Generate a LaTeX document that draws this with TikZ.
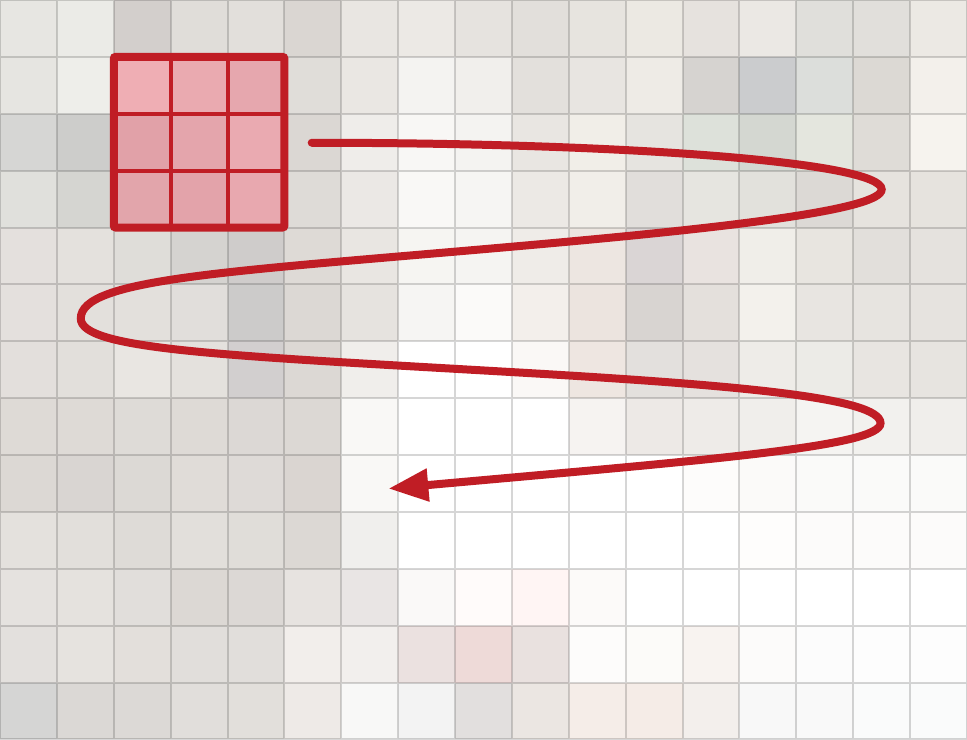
\documentclass[tikz,border=0pt]{standalone}
\usepackage{tikz}
\usetikzlibrary{arrows.meta}
\definecolor{kred}{HTML}{C01D25}
\tikzstyle{gridline} = [draw=black, draw opacity=0.16, line width=1pt]
\tikzstyle{kernel} = [draw=kred, line width=4pt, rounded corners=1pt]
\tikzstyle{kernelline} = [draw=kred, line width=2pt]
\tikzstyle{sweep} = [draw=kred, line width=4pt, line cap=round, -{Triangle[length=7mm,width=5.5mm]}]

\begin{document}
\begin{tikzpicture}
\useasboundingbox (0,0) rectangle (17,13);
\foreach \cells [count=\r from 0] in {
  {E7E6E2,EBEBE7,D3CFCC,E0DDD9,E2DFDB,DAD6D2,E9E6E2,ECE9E5,E6E3DF,E2DFDB,E7E4DF,ECE9E3,E6E2DE,EBE8E4,E0DFDB,E1DFDB,ECE9E4},
  {E6E5E1,EEEEEA,EFAEB4,EAAAB0,E6A7AE,E0DDD9,EAE7E3,F4F3F1,F1EFEC,E3E0DC,E8E5E1,EEEBE6,D6D3D0,CBCCCE,DCDEDB,DCD9D4,F3F0EB},
  {D6D6D4,CDCDCB,E1A1A8,E4A5AC,EAAAB1,DBD7D3,EFEDEA,F8F7F5,F4F3F1,E9E6E2,F1EEE8,E6E4E0,DDE1DA,D4D7D1,E4E6DE,DFDCD7,F6F3EE},
  {E0E0DC,D5D5D1,E2A5AB,E3A3AA,E8A8AF,DEDBD7,EBE8E5,F9F8F6,F6F5F3,ECE9E5,F1EEE9,E1DEDB,E6E5E0,E2E1DC,DCD9D5,E6E3DE,E6E3DE},
  {E4E0DD,E4E1DD,DFDDD9,D5D3D0,CFCCCB,DEDAD6,E9E6E2,F6F5F2,F5F4F2,EFECE8,EDE6E1,DAD5D5,E9E3E0,F0EEE9,E8E5E0,E2DFDB,E5E2DE},
  {E4E0DD,E3E0DC,E3E0DC,E1DEDB,CCCBCA,DCD8D4,E6E3DF,F6F5F3,FBFAF9,F3EFEB,ECE4DF,D8D4D1,E4E0DC,F3F1EC,E8E5E1,E7E4E0,E6E3DF},
  {E3DFDC,E2DFDB,E9E6E2,E4E1DD,D2CFCF,DCD8D4,F0EEEB,FFFFFF,FFFFFF,FAF8F6,EEE6E1,E3E0DD,E5E1DE,EEECE8,ECEBE7,E8E5E1,E7E4E0},
  {DEDAD6,DEDAD6,DEDBD7,DEDAD6,DCD8D5,DCD8D4,F9F8F6,FFFFFF,FFFFFF,FFFFFF,F6F3F1,EDE9E6,EEEBE8,F0EEEB,F5F4F2,F2F1EE,F0EEEB},
  {DCD8D4,D9D5D2,DCD9D5,E0DCD8,DEDAD7,DAD5D1,F9F8F6,FFFFFF,FFFFFF,FFFFFF,FFFFFF,FFFFFF,FDFCFB,FBFAF9,FAFAF9,FAFAF9,FAFAF9},
  {E4E1DD,E2DFDB,DEDBD7,E2DFDB,E0DDD9,DCD8D4,F0EFED,FFFFFF,FFFFFF,FFFFFF,FFFFFF,FFFFFF,FFFFFF,FEFDFC,FCFBFA,FCFBFA,FCFBFA},
  {E5E2DF,E5E2DE,E1DEDB,DCD8D4,DCD8D5,E7E3E0,E9E5E4,FAF9F8,FFFBFA,FFF5F4,FCFAF9,FFFFFF,FFFFFF,FFFFFF,FFFFFF,FFFFFF,FFFFFF},
  {E3E0DD,E6E3DF,E3DFDB,E1DEDB,E1DEDB,F2EEEB,F2EFED,EBE1E0,EEDAD8,E9E1DF,FDFCFB,FCFBF9,F8F3F0,FCFBFA,FCFCFC,FDFDFD,FDFDFD},
  {D5D5D4,DBD8D5,DCD9D6,E1DEDB,E2DFDB,EEEAE7,F8F8F7,F3F3F3,E2DFDE,EBE6E2,F5EDE8,F5ECE7,F3EFEC,F8F8F8,F9F9F9,FAFBFB,FAFBFB}}{
  \foreach \hex [count=\c from 0] in \cells {
    \definecolor{cellfill}{HTML}{\hex}
    \fill[cellfill] (\c,12-\r) rectangle ++(1,1);
  }
}
\draw[gridline] (0,0) grid (17,13);

\draw[kernelline] (3,9) -- (3,12) (4,9) -- (4,12) (2,10) -- (5,10) (2,11) -- (5,11);
\draw[kernel] (2,9) rectangle (5,12);

\coordinate (start) at (5.48,10.49);
\coordinate (turn-a) at (15.50,9.67);
\coordinate (mid-a) at (8.97,8.66);
\coordinate (turn-b) at (1.42,7.40);
\coordinate (mid-b) at (8.97,6.46);
\coordinate (turn-c) at (15.48,5.56);
\coordinate (stop) at (6.83,4.41);
\draw[sweep] (start) .. controls (11,10.49) and (15.50,10.15) .. (turn-a)
  .. controls (15.50,9.32) and (12.97,9.01) .. (mid-a)
  .. controls (3.97,8.22) and (1.42,8.10) .. (turn-b)
  .. controls (1.42,6.85) and (3.97,6.75) .. (mid-b)
  .. controls (12.97,6.23) and (15.48,6.01) .. (turn-c)
  .. controls (15.48,5.15) and (12.5,4.92) .. (stop);
\end{tikzpicture}
\end{document}
